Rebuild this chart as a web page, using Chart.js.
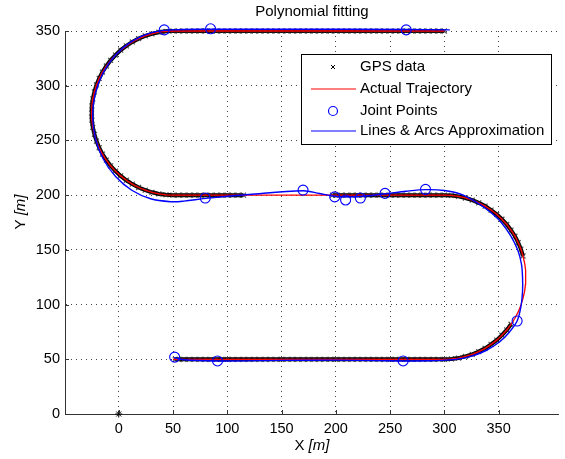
<!DOCTYPE html>
<html>
<head>
<meta charset="utf-8">
<script src="https://cdn.jsdelivr.net/npm/chart.js@4.4.1/dist/chart.umd.min.js"></script>
<style>
  html, body { margin: 0; padding: 0; background: #fff; }
  #wrap { width: 565px; height: 459px; }
</style>
</head>
<body>
<div id="wrap"><canvas id="fitChart" width="565" height="459"></canvas></div>
<script>
const FONT = '"Liberation Sans", Arial, Helvetica, sans-serif';

const xTicks = [0, 50, 100, 150, 200, 250, 300, 350];
const yTicks = [0, 50, 100, 150, 200, 250, 300, 350];

// straight stretches of the GPS track (x positions), y of each stretch
const gpsBottomX = [52, 55, 60, 65, 70, 75, 80, 85, 90, 95, 100, 105, 110, 115, 120, 125, 130, 135, 140, 145, 150, 155, 160, 165, 170, 175, 180, 185, 190, 195, 200, 205, 210, 215, 220, 225, 230, 235, 240, 245, 250, 255, 260, 265, 270, 275, 280, 285, 290, 295];
const gpsMidRightX = [295, 290, 285, 280, 275, 270, 265, 260, 255, 250, 245, 240, 235, 230, 225, 220, 215, 210, 205, 200, 197];
const gpsMidLeftX = [115, 110, 105, 100, 95, 90, 85, 80, 75, 70, 65, 60, 55];
const gpsTopX = [55, 60, 65, 70, 75, 80, 85, 90, 95, 100, 105, 110, 115, 120, 125, 130, 135, 140, 145, 150, 155, 160, 165, 170, 175, 180, 185, 190, 195, 200, 205, 210, 215, 220, 225, 230, 235, 240, 245, 250, 255, 260, 265, 270, 275, 280, 285, 290, 295, 300];
const laneY = [50, 200, 350];

// the two turns of the track
const rightArc = [[300, 50], [306.5, 50.3], [313, 51.1], [319.4, 52.6], [325.7, 54.5], [331.7, 57], [337.5, 60], [343, 63.6], [348.2, 67.5], [353, 72], [357.5, 76.8], [361.4, 82], [365, 87.5], [368, 93.3], [370.5, 99.3], [372.4, 105.6], [373.9, 112], [374.7, 118.5], [375, 125], [374.7, 131.5], [373.9, 138], [372.4, 144.4], [370.5, 150.7], [368, 156.7], [365, 162.5], [361.4, 168], [357.5, 173.2], [353, 178], [348.2, 182.5], [343, 186.4], [337.5, 190], [331.7, 193], [325.7, 195.5], [319.4, 197.4], [313, 198.9], [306.5, 199.7], [300, 200]];
const leftArc = [[50, 200], [43.5, 200.3], [37, 201.1], [30.6, 202.6], [24.4, 204.5], [18.3, 207], [12.5, 210.1], [7, 213.6], [1.8, 217.6], [-3, 222], [-7.5, 226.8], [-11.4, 232], [-15, 237.5], [-18, 243.3], [-20.5, 249.4], [-22.4, 255.6], [-23.9, 262], [-24.7, 268.5], [-25, 275], [-24.7, 281.5], [-23.9, 288], [-22.4, 294.4], [-20.5, 300.7], [-18, 306.7], [-15, 312.5], [-11.4, 318], [-7.5, 323.2], [-3, 328], [1.8, 332.5], [7, 336.4], [12.5, 340], [18.3, 343], [24.4, 345.5], [30.6, 347.4], [37, 348.9], [43.5, 349.7], [50, 350]];

const jointPoints = [[41.9, 351], [84.6, 352], [264.8, 351], [79.7, 197.4], [169.8, 204.6], [199, 198.4], [209, 195.6], [222.6, 197.4], [245.3, 201.6], [282.6, 205.3], [367, 85], [51.5, 52], [91, 48.5], [262, 48.5]];

const approxPath = [[51, 51.5], [60, 49.6], [91, 48.5], [150, 49], [200, 49.2], [240, 48.8], [262, 48.5], [285, 48.6], [305, 49.5], [322, 52], [338, 57.8], [351, 66], [360, 75], [367, 85], [370.5, 98], [372, 112], [372, 125], [371, 137], [367.5, 150], [361, 163], [352, 175.5], [341, 185.5], [328.5, 194], [315, 201], [300, 204.3], [283, 205], [265, 203.6], [246, 201.3], [223, 198.8], [209, 198.5], [199, 199], [185, 201.5], [170, 204], [120, 200.6], [80, 197], [60, 194.5], [48, 194], [29.4, 196.7], [12, 204.5], [-2.9, 217], [-14.4, 233.3], [-21.6, 252.2], [-24, 272.5], [-21.6, 292.8], [-14.4, 311.8], [-2.9, 328], [12, 340.5], [29.4, 348.3], [48, 351], [85, 351.6], [150, 351.6], [265, 351.4], [305, 351]];

const startPoint = [[0, 0]];

const labels = ['GPS data', 'Actual Trajectory', 'Joint Points', 'Lines & Arcs Approximation'];

const pt = p => ({ x: p[0], y: p[1] });
const gap = { x: 370, y: null };

const gpsData = [
  ...gpsBottomX.map(x => ({ x, y: laneY[0] })),
  ...rightArc.slice(0, 12).map(pt),
  gap,
  ...rightArc.slice(21).map(pt),
  ...gpsMidRightX.map(x => ({ x, y: laneY[1] })),
  { x: 150, y: null },
  ...gpsMidLeftX.map(x => ({ x, y: laneY[1] })),
  ...leftArc.map(pt),
  ...gpsTopX.map(x => ({ x, y: laneY[2] }))
];

const actualData = [{ x: 50, y: laneY[0] }, ...rightArc.map(pt), ...leftArc.map(pt), { x: 300, y: laneY[2] }];

// legend + title + axis labels + inward ticks, MATLAB style
const decor = {
  id: 'decor',
  afterDraw(chart) {
    const { ctx, chartArea: a, scales: { x, y } } = chart;
    ctx.save();
    ctx.strokeStyle = '#333';
    ctx.lineWidth = 1;
    ctx.beginPath();
    xTicks.forEach(v => {
      const px = Math.round(x.getPixelForValue(v)) + 0.5;
      ctx.moveTo(px, a.bottom); ctx.lineTo(px, a.bottom - 4);
    });
    yTicks.forEach(v => {
      const py = Math.round(y.getPixelForValue(v)) + 0.5;
      ctx.moveTo(a.left, py); ctx.lineTo(a.left + 4, py);
    });
    ctx.stroke();

    ctx.fillStyle = '#000';
    ctx.textBaseline = 'middle';
    ctx.textAlign = 'center';
    ctx.font = '15px ' + FONT;
    ctx.fillText('Polynomial fitting', (a.left + a.right) / 2, 12);

    const mixed = (name, cx, cy, rot) => {
      ctx.save();
      ctx.translate(cx, cy);
      if (rot) ctx.rotate(-Math.PI / 2);
      ctx.textAlign = 'left';
      ctx.font = '15px ' + FONT;
      const w1 = ctx.measureText(name + ' ').width;
      ctx.font = 'italic 15px ' + FONT;
      const w2 = ctx.measureText('[m]').width;
      const x0 = -(w1 + w2) / 2;
      ctx.font = '15px ' + FONT;
      ctx.fillText(name + ' ', x0, 0);
      ctx.font = 'italic 15px ' + FONT;
      ctx.fillText('[m]', x0 + w1, 0);
      ctx.restore();
    };
    mixed('X', (a.left + a.right) / 2, 446, false);
    mixed('Y', 21, 212, true);

    // legend box
    const bx = 301.5, by = 54.5, bw = 250, bh = 90;
    ctx.fillStyle = '#fff';
    ctx.fillRect(bx, by, bw, bh);
    ctx.strokeStyle = '#000';
    ctx.strokeRect(bx, by, bw, bh);
    const rows = [67, 89, 111, 131];
    const sx = 333;
    ctx.lineWidth = 1;
    ctx.strokeStyle = '#000';
    ctx.beginPath();
    ctx.moveTo(sx - 2, rows[0] - 2); ctx.lineTo(sx + 2, rows[0] + 2);
    ctx.moveTo(sx - 2, rows[0] + 2); ctx.lineTo(sx + 2, rows[0] - 2);
    ctx.stroke();
    ctx.lineWidth = 1.2;
    ctx.strokeStyle = '#ff0000';
    ctx.beginPath(); ctx.moveTo(311, rows[1]); ctx.lineTo(356, rows[1]); ctx.stroke();
    ctx.strokeStyle = '#0000ff';
    ctx.beginPath(); ctx.arc(sx, rows[2], 4.5, 0, Math.PI * 2); ctx.stroke();
    ctx.beginPath(); ctx.moveTo(311, rows[3]); ctx.lineTo(356, rows[3]); ctx.stroke();
    ctx.fillStyle = '#000';
    ctx.textAlign = 'left';
    ctx.font = '15px ' + FONT;
    labels.forEach((t, i) => ctx.fillText(t, 360, rows[i]));
    ctx.restore();
  }
};

const tickFont = { family: FONT, size: 14.5 };

new Chart(document.getElementById('fitChart').getContext('2d'), {
  type: 'scatter',
  data: {
    datasets: [
      {
        label: labels[0], data: gpsData, showLine: true, order: 4, clip: false,
        borderColor: '#000', borderWidth: 4,
        pointStyle: 'crossRot', pointRadius: 3.5, pointBorderWidth: 1.2, pointBorderColor: 'rgba(40,40,40,0.8)'
      },
      {
        label: labels[1], data: actualData, showLine: true, order: 3, clip: false,
        borderColor: '#ff0000', borderWidth: 1.3, pointRadius: 0
      },
      {
        label: labels[2], data: jointPoints.map(pt), order: 2, clip: false,
        pointStyle: 'circle', pointRadius: 5, pointBorderWidth: 1.1,
        pointBorderColor: '#0000ff', pointBackgroundColor: 'rgba(0,0,0,0)'
      },
      {
        label: labels[3], data: approxPath.map(pt), showLine: true, order: 1, clip: false,
        borderColor: '#0000ff', borderWidth: 1.4, tension: 0.35, pointRadius: 0
      },
      {
        label: 'start', data: startPoint.map(pt), order: 0, clip: false,
        pointStyle: 'star', pointRadius: 3.5, pointBorderWidth: 1, pointBorderColor: '#000'
      }
    ]
  },
  options: {
    responsive: false,
    animation: false,
    events: [],
    layout: { padding: { top: 31, left: 0, right: 0, bottom: 0 } },
    scales: {
      x: {
        type: 'linear', min: -49.5, max: 405.5,
        afterBuildTicks: s => { s.ticks = xTicks.map(v => ({ value: v })); },
        afterFit: s => { s.height = 45; },
        grid: { color: '#444', lineWidth: 1, drawTicks: false },
        border: { display: true, color: '#333', width: 1, dash: [1, 4] },
        ticks: { color: '#000', font: tickFont, padding: 6, maxRotation: 0 }
      },
      y: {
        type: 'linear', min: 0, max: 350,
        afterBuildTicks: s => { s.ticks = yTicks.map(v => ({ value: v })); },
        afterFit: s => { s.width = 65; },
        grid: { color: '#444', lineWidth: 1, drawTicks: false },
        border: { display: true, color: '#333', width: 1, dash: [1, 4] },
        ticks: { color: '#000', font: tickFont, padding: 5 }
      }
    },
    plugins: {
      legend: { display: false },
      tooltip: { enabled: false },
      title: { display: false }
    }
  },
  plugins: [decor]
});
</script>
</body>
</html>
